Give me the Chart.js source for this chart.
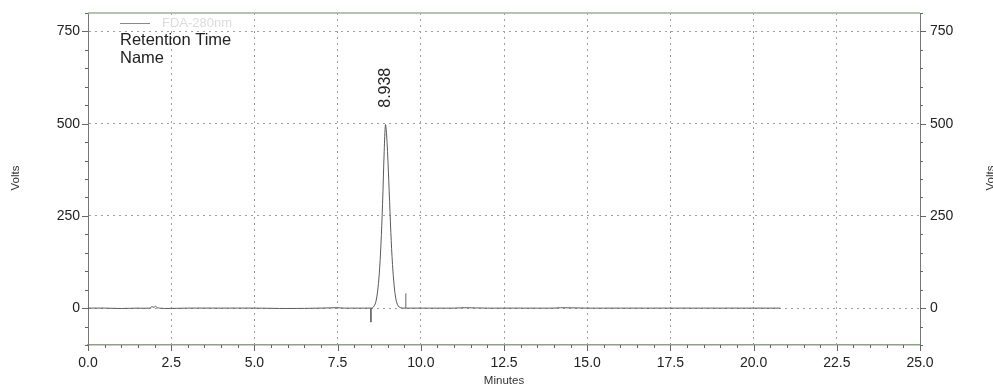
<!DOCTYPE html>
<html>
<head>
<meta charset="utf-8">
<script src="https://cdn.jsdelivr.net/npm/chart.js@4/dist/chart.umd.min.js"></script>
<style>
  html, body { margin: 0; padding: 0; background: #fff; }
  #wrap { width: 993px; height: 390px; position: relative; }
</style>
</head>
<body>
<div id="wrap"><canvas id="chrom"></canvas></div>
<script>
// detector trace (minutes / volts)
const traceTimes = [
  0, 0.5, 1.0, 1.5, 1.85, 1.92, 1.98, 2.03, 2.08, 2.15, 2.3, 3.0, 4.0, 5.0, 6.0, 7.0, 7.5, 7.7, 8.0, 8.3, 8.5,
  8.55, 8.6, 8.65, 8.7, 8.75, 8.8, 8.85, 8.9, 8.938, 8.97, 9.0, 9.05, 9.1, 9.15, 9.2, 9.25, 9.3, 9.35, 9.4, 9.45,
  9.6, 10.0, 11.0, 11.3, 12.0, 13.0, 14.0, 14.2, 15.0, 16.0, 17.0, 18.0, 19.0, 20.0, 20.8
];
const traceVolts = [
  0, 0, -1, 0, 0, 4, 2, 5, 1, 0, -1, 0, 0, 0, -1, 0, 1, 0, 0, 0, 0,
  1, 6, 17, 44, 90, 168, 280, 425, 497, 472, 425, 318, 205, 118, 60, 25, 9, 3, 1, 0,
  0, 0, 0, 1, 0, 0, 0, 1, 0, 0, 0, 0, 0, 0, 0
];

// integration markers
const markerTimes = [8.5, 9.55];
const markerVolts = [-38, 40];

// peak annotation
const peakTime = 8.938;
const peakHeight = 497;
const peakLabel = "8.938";

// axes
const xTicks = [0, 2.5, 5, 7.5, 10, 12.5, 15, 17.5, 20, 22.5, 25];
const yTicks = [0, 250, 500, 750];
const xMinorStep = 0.5;
const yMinorStep = 50;

const FONT = "'Liberation Sans', Arial, sans-serif";

const tracePoints = traceTimes.map((t, i) => ({ x: t, y: traceVolts[i] }));
const markerPoints = [];
markerTimes.forEach((t, i) => {
  markerPoints.push({ x: t, y: 0 }, { x: t, y: markerVolts[i] }, { x: t, y: null });
});

// tick marks, frame, legend, titles and peak label
const decor = {
  id: "decor",
  afterDraw(chart) {
    const { ctx, chartArea: a, scales } = chart;
    const xs = scales.x, yl = scales.y;
    ctx.save();
    ctx.strokeStyle = "#666";
    ctx.lineWidth = 1;
    ctx.beginPath();
    for (let v = yl.min; v <= yl.max + 0.001; v += yMinorStep) {
      const py = Math.round(yl.getPixelForValue(v)) + 0.5;
      const len = yTicks.includes(v) ? 6 : 3;
      ctx.moveTo(a.left, py); ctx.lineTo(a.left - len, py);
      ctx.moveTo(a.right, py); ctx.lineTo(a.right + len, py);
    }
    for (let v = xs.min; v <= xs.max + 0.001; v += xMinorStep) {
      const px = Math.round(xs.getPixelForValue(v)) + 0.5;
      const len = xTicks.some(t => Math.abs(t - v) < 0.001) ? 6 : 3;
      ctx.moveTo(px, a.bottom); ctx.lineTo(px, a.bottom + len);
    }
    ctx.stroke();

    // top frame line
    ctx.strokeStyle = "#9db096";
    ctx.lineWidth = 1.5;
    ctx.beginPath();
    ctx.moveTo(a.left, a.top); ctx.lineTo(a.right, a.top);
    ctx.stroke();

    // legend
    ctx.strokeStyle = "#888";
    ctx.lineWidth = 1;
    ctx.beginPath();
    ctx.moveTo(120, 23.5); ctx.lineTo(150, 23.5);
    ctx.stroke();
    ctx.fillStyle = "#dcdcdc";
    ctx.font = "13px " + FONT;
    ctx.textBaseline = "middle";
    ctx.textAlign = "left";
    ctx.fillText("FDA-280nm", 162, 23);
    ctx.fillStyle = "#222";
    ctx.font = "16.5px " + FONT;
    ctx.fillText("Retention Time", 120, 40);
    ctx.fillText("Name", 120, 58);

    // peak label, rotated above the apex
    const px = xs.getPixelForValue(peakTime);
    const py = yl.getPixelForValue(peakHeight);
    ctx.save();
    ctx.translate(px, py - 17);
    ctx.rotate(-Math.PI / 2);
    ctx.font = "16px " + FONT;
    ctx.textAlign = "left";
    ctx.textBaseline = "middle";
    ctx.fillStyle = "#222";
    ctx.fillText(peakLabel, 0, 0);
    ctx.restore();

    // axis titles
    ctx.font = "11.5px " + FONT;
    ctx.fillStyle = "#333";
    ctx.textAlign = "center";
    ctx.textBaseline = "middle";
    ctx.fillText("Minutes", (a.left + a.right) / 2, 381);
    [16, 991].forEach(cx => {
      ctx.save();
      ctx.translate(cx, 178);
      ctx.rotate(-Math.PI / 2);
      ctx.fillText("Volts", 0, 0);
      ctx.restore();
    });
    ctx.restore();
  }
};

const yAxis = (position, withGrid) => ({
  type: "linear",
  position,
  min: -100,
  max: 800,
  afterBuildTicks: scale => { scale.ticks = yTicks.map(v => ({ value: v })); },
  afterFit: scale => {
    scale.width = position === "left" ? 88 : 73;
    // labels never reach the ends of the axis, so no overflow padding
    scale.paddingTop = 0;
    scale.paddingBottom = 0;
  },
  ticks: {
    color: "#222",
    font: { family: FONT, size: 14 },
    padding: position === "left" ? 8 : 10,
    callback: v => String(v)
  },
  grid: {
    display: withGrid,
    drawTicks: false,
    color: "#a0a0a0",
    lineWidth: 1
  },
  border: { display: true, color: "#777", width: 1, dash: [2, 4] }
});

new Chart(document.getElementById("chrom"), {
  type: "line",
  data: {
    datasets: [
      {
        data: tracePoints,
        borderColor: "#5a5a5a",
        borderWidth: 1,
        pointRadius: 0,
        tension: 0.35,
        fill: false
      },
      {
        data: markerPoints,
        borderColor: "#666",
        borderWidth: 1,
        pointRadius: 0,
        spanGaps: false,
        fill: false
      }
    ]
  },
  options: {
    responsive: true,
    maintainAspectRatio: false,
    animation: false,
    layout: { padding: { top: 13, left: 0, right: 0, bottom: 0 } },
    plugins: { legend: { display: false }, tooltip: { enabled: false } },
    scales: {
      x: {
        type: "linear",
        min: 0,
        max: 25,
        afterBuildTicks: scale => { scale.ticks = xTicks.map(v => ({ value: v })); },
        afterFit: scale => {
          scale.height = 45;
          scale.paddingLeft = 0;
          scale.paddingRight = 0;
        },
        ticks: {
          color: "#222",
          font: { family: FONT, size: 14 },
          padding: 10,
          maxRotation: 0,
          callback: v => Number(v).toFixed(1)
        },
        grid: { drawTicks: false, color: "#a0a0a0", lineWidth: 1 },
        border: { display: true, color: "#8fa08a", width: 1.5, dash: [2, 4] }
      },
      y: yAxis("left", true),
      y2: yAxis("right", false)
    }
  },
  plugins: [decor]
});
</script>
</body>
</html>
